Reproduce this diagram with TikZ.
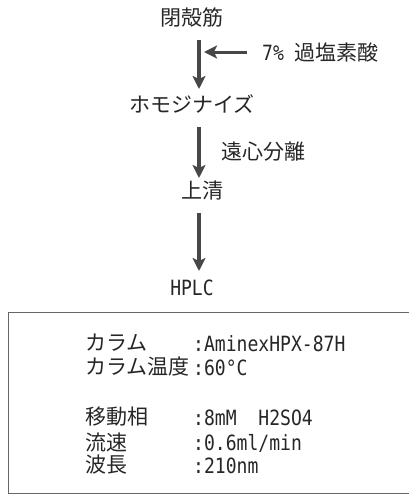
\documentclass[tikz,border=0pt]{standalone}
\usepackage{fontspec}
\setmainfont{Noto Sans CJK JP}
\newfontfamily\monolat[FakeStretch=0.86]{DejaVu Sans Mono}
\usetikzlibrary{arrows.meta}
\begin{document}
\begin{tikzpicture}[x=1pt,y=-1pt,
  txt/.style={text=black!85, font=\fontsize{21}{24}\selectfont, inner sep=1pt},
  btxt/.style={text=black!85, font=\fontsize{21}{24}\selectfont, inner sep=0pt, anchor=west},
  arr/.style={draw=black!72, line width=3.6pt, -{Stealth[length=13pt,width=13pt,inset=3pt]}},
  harr/.style={draw=black!72, line width=3pt, -{Stealth[length=13pt,width=13pt,inset=3pt]}}]
\useasboundingbox (0,0) rectangle (409,496);
\node[txt] (a) at (192,18) {閉殻筋};
\node[txt] (b) at (192,104) {ホモジナイズ};
\node[txt] (c) at (202,190) {上清};
\node[txt] (d) at (192,288) {\monolat HPLC};
\node[txt,anchor=west,inner sep=0pt] (acid) at (262,52) {\monolat 7\%\ \rmfamily 過塩素酸};
\node[txt,anchor=west,inner sep=0pt] (cent) at (221,152) {遠心分離};
\coordinate (s1) at (199,40);
\coordinate (e1) at (199,89);
\coordinate (m1) at (204,52);
\coordinate (s2) at (199,127);
\coordinate (e2) at (199,178);
\coordinate (s3) at (199,213);
\coordinate (e3) at (199,271);
\draw[arr] (s1) -- (e1);
\draw[harr] (acid.west) ++(-15,0) coordinate (t1) -- (m1);
\draw[arr] (s2) -- (e2);
\draw[arr] (s3) -- (e3);
\node[draw=black!60, line width=1.3pt, minimum width=410pt, minimum height=181pt, anchor=north west, inner sep=0pt] (box) at (8,312) {};
\node[btxt] (l1) at (85,343) {カラム};
\node[btxt] (v1) at (193,344) {\monolat :AminexHPX-87H};
\node[btxt] (l2) at (85,367) {カラム温度};
\node[btxt] (v2) at (193,368) {\monolat :60°C};
\node[btxt] (l3) at (85,417) {移動相};
\node[btxt] (v3) at (193,418) {\monolat :8mM\ \ H2SO4};
\node[btxt] (l4) at (85,442) {流速};
\node[btxt] (v4) at (193,443) {\monolat :0.6ml/min};
\node[btxt] (l5) at (85,465) {波長};
\node[btxt] (v5) at (193,466) {\monolat :210nm};
\end{tikzpicture}
\end{document}
